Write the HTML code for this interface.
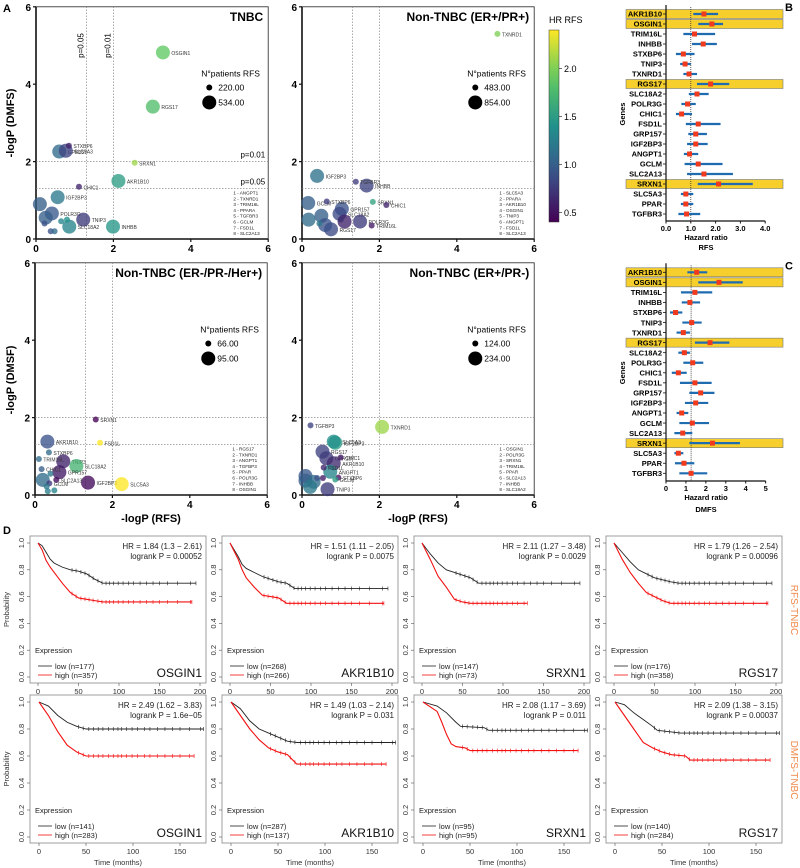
<!DOCTYPE html>
<html><head><meta charset="utf-8"><style>
body{margin:0;background:#fff}
svg{display:block;font-family:"Liberation Sans",sans-serif}
</style></head><body>
<svg id="fig" width="800" height="868" viewBox="0 0 800 868" xmlns="http://www.w3.org/2000/svg"></svg>
<script>
// ---------- DATA ----------
const scatterTitles=["TNBC","Non-TNBC (ER+/PR+)","Non-TNBC (ER-/PR-/Her+)","Non-TNBC (ER+/PR-)"];
const legendN=[[220,534],[483,854],[66,95],[124,234]];
// points: [rfs, dmfs, patients, hr, label]
const s1=[[3.28,4.82,534,1.9,"OSGIN1"],[3.02,3.42,534,1.8,"RGS17"],[0.85,2.41,220,0.6,"STXBP6"],[0.6,2.26,534,1.1,"GPR157"],[0.77,2.28,534,0.8,"SLC5A3"],[2.55,1.97,220,2.1,"SRXN1"],[2.13,1.5,534,1.5,"AKR1B10"],[1.11,1.35,220,0.6,"CHIC1"],[0.56,1.08,534,1.2,"IGF2BP3"],[0.1,0.9,534,1.0,""],[0.41,0.66,534,0.95,"POLR3G"],[0.25,0.55,534,1.0,""],[0.22,0.4,220,0.9,""],[1.22,0.5,534,0.75,"TNIP3"],[1.99,0.32,534,1.45,"INHBB"],[0.86,0.32,534,1.3,"SLC18A2"],[0.8,0.5,220,1.4,""],[0.65,0.46,220,1.3,""],[0.38,0.2,220,0.9,""],[0.48,0.2,220,1.1,""]];
const s2=[[5.05,5.3,483,2.0,"TXNRD1"],[0.39,1.63,854,1.15,"IGF2BP3"],[1.39,1.48,483,0.75,"TGFBR3"],[1.67,1.38,854,0.8,"INHBB"],[0.16,0.93,854,1.0,"GCLM"],[0.64,0.97,483,0.75,"STXBP6"],[1.83,0.96,483,1.55,"SRXN1"],[2.18,0.88,483,0.6,"CHIC1"],[1.03,0.78,854,0.9,"GPR157"],[0.97,0.65,854,0.85,"SLC18A2"],[1.5,0.45,854,0.75,"POLR3G"],[1.8,0.35,483,0.55,"TRIM16L"],[0.75,0.25,854,0.85,"RGS17"],[0.17,0.5,854,1.1,""],[0.5,0.6,854,1.0,""],[0.45,0.4,483,1.2,""],[0.6,0.36,854,0.9,""],[1.0,0.5,483,0.7,""],[1.1,0.45,854,0.6,""]];
const s3=[[1.57,1.95,66,0.4,"SRXN1"],[1.68,1.35,66,2.4,"FSD1L"],[0.32,1.38,95,0.9,"AKR1B10"],[0.36,1.1,66,1.1,"STXBP6"],[0.1,0.93,66,1.1,"TRIM16L"],[0.73,0.87,95,0.6,"TNIP3"],[1.07,0.75,95,1.7,"SLC18A2"],[0.17,0.67,66,1.0,"CHIC1"],[0.63,0.59,95,0.55,"GPR157"],[0.55,0.39,66,0.45,"SLC2A13"],[1.37,0.32,95,0.45,"IGF2BP3"],[2.24,0.28,95,2.4,"SLC5A3"],[0.37,0.3,66,0.75,"GCLM"],[0.2,0.39,95,1.1,""],[0.4,0.55,66,1.2,""],[0.3,0.22,66,1.2,""],[0.5,0.12,66,1.3,""],[0.33,0.1,66,1.25,""]];
const s4=[[2.07,1.76,234,2.1,"TXNRD1"],[0.22,1.8,124,0.8,"TGFBP3"],[0.86,1.35,234,1.5,"IGF2BP3"],[0.82,1.38,234,1.4,"SLC5A3"],[0.53,1.12,234,0.8,"RGS17"],[1.0,0.97,124,0.55,"CHIC1"],[0.63,0.95,234,0.75,"GPR157"],[0.82,0.82,234,0.65,"AKR1B10"],[0.56,0.71,124,0.6,"FSD1L"],[0.73,0.6,234,1.3,"ANGPT1"],[0.94,0.45,124,0.5,"STXBP6"],[0.86,0.4,124,1.5,"GCLM"],[0.66,0.15,234,0.75,"TNIP3"],[0.09,0.49,234,0.95,""],[0.09,0.37,234,1.0,""],[0.3,0.34,234,1.1,""],[0.21,0.21,234,1.2,""],[0.39,0.44,124,0.9,""],[0.54,0.44,124,0.55,""]];
const scatterSeries=[s1,s2,s3,s4];
const keyLists=[["1 - ANGPT1","2 - TXNRD1","3 - TRIM16L","4 - PPARA","5 - TGFBR3","6 - GCLM","7 - FSD1L","8 - SLC2A13"],["1 - SLC5A3","2 - PPARA","3 - AKR1B10","4 - OSGIN1","5 - TNIP3","6 - ANGPT1","7 - FSD1L","8 - SLC2A13"],["1 - RGS17","2 - TXNRD1","3 - ANGPT1","4 - TGFBP3","5 - PPAR","6 - POLR3G","7 - INHBB","8 - OSGIN1"],["1 - OSGIN1","2 - POLR3G","3 - SRXN1","4 - TRIM16L","5 - PPAR","6 - SLC2A13","7 - INHBB","8 - SLC18A2"]];
const axisTicks=[0,2,4,6];
const cbTicks=[0.5,1.0,1.5,2.0];

const genes=["AKR1B10","OSGIN1","TRIM16L","INHBB","STXBP6","TNIP3","TXNRD1","RGS17","SLC18A2","POLR3G","CHIC1","FSD1L","GRP157","IGF2BP3","ANGPT1","GCLM","SLC2A13","SRXN1","SLC5A3","PPAR","TGFBR3"];
const highlighted=["AKR1B10","OSGIN1","RGS17","SRXN1"];
const hrRFS=[1.53,1.85,1.15,1.5,0.7,0.77,0.93,1.8,1.25,0.87,0.63,1.3,1.2,1.2,0.95,1.3,1.53,2.12,0.8,0.8,0.83];
const loRFS=[1.1,1.3,0.7,1.05,0.4,0.57,0.7,1.25,0.92,0.62,0.4,0.8,0.9,0.85,0.72,0.75,0.85,1.28,0.6,0.6,0.5];
const hiRFS=[2.1,2.3,1.98,2.05,1.15,1.0,1.25,2.55,1.72,1.2,1.05,2.2,1.65,1.68,1.3,2.28,2.7,3.5,1.1,1.1,1.38];
const hrDMFS=[1.54,2.66,1.45,1.2,0.48,1.29,0.87,2.21,0.92,1.34,0.62,1.45,1.74,1.49,0.79,1.32,0.84,2.33,0.62,0.9,1.26];
const loDMFS=[1.07,1.62,0.75,0.79,0.2,0.82,0.53,1.45,0.62,0.87,0.29,0.7,1.17,0.95,0.53,0.67,0.42,1.17,0.42,0.45,0.67];
const hiDMFS=[2.07,3.85,2.32,1.71,0.82,1.79,1.2,3.18,1.2,1.87,1.04,2.29,2.43,2.12,1.12,2.16,1.32,3.71,0.87,1.42,2.07];
const ticksRFS=[0,1,2,3,4];
const ticksDMFS=[0,1,2,3,4,5];

const kmGenes=["OSGIN1","AKR1B10","SRXN1","RGS17"];
const kmHR=[["HR = 1.84 (1.3 − 2.61)","HR = 1.51 (1.11 − 2.05)","HR = 2.11 (1.27 − 3.48)","HR = 1.79 (1.26 − 2.54)"],["HR = 2.49 (1.62 − 3.83)","HR = 1.49 (1.03 − 2.14)","HR = 2.08 (1.17 − 3.69)","HR = 2.09 (1.38 − 3.15)"]];
const kmP=[["logrank P = 0.00052","logrank P = 0.0075","logrank P = 0.0029","logrank P = 0.00096"],["logrank P = 1.6e−05","logrank P = 0.031","logrank P = 0.011","logrank P = 0.00037"]];
const kmNlow=[[177,268,147,176],[141,287,95,140]];
const kmNhigh=[[357,266,73,358],[283,137,95,284]];
const kmLow=[
 [[[0,1],[5,.98],[10,.93],[15,.88],[20,.85],[30,.82],[40,.8],[50,.79],[60,.77],[70,.73],[80,.7],[195,.7]],
  [[0,1],[10,.9],[15,.84],[20,.81],[30,.78],[40,.75],[50,.73],[60,.71],[70,.7],[80,.66],[195,.66]],
  [[0,1],[10,.92],[20,.85],[30,.8],[40,.78],[60,.74],[70,.7],[195,.7]],
  [[0,1],[10,.93],[20,.86],[30,.8],[40,.77],[50,.74],[70,.71],[80,.7],[195,.7]]],
 [[[0,1],[10,.97],[20,.9],[30,.85],[40,.82],[50,.8],[175,.8]],
  [[0,1],[10,.95],[20,.86],[30,.8],[40,.77],[50,.74],[60,.71],[70,.7],[175,.7]],
  [[0,1],[15,.97],[25,.92],[35,.85],[40,.82],[65,.81],[70,.79],[175,.79]],
  [[0,1],[10,.98],[20,.92],[30,.87],[40,.82],[45,.79],[70,.77],[175,.77]]]];
const kmHigh=[
 [[[0,1],[5,.95],[10,.87],[15,.82],[20,.78],[30,.7],[40,.63],[50,.59],[60,.58],[70,.57],[80,.56],[190,.56]],
  [[0,1],[10,.88],[15,.8],[20,.74],[30,.67],[40,.61],[50,.6],[60,.59],[70,.55],[190,.55]],
  [[0,1],[10,.88],[20,.75],[30,.67],[40,.58],[50,.56],[60,.55],[130,.55]],
  [[0,1],[10,.88],[20,.78],[30,.7],[40,.63],[50,.6],[60,.57],[70,.55],[190,.55]]],
 [[[0,1],[10,.9],[20,.78],[30,.68],[40,.63],[50,.6],[165,.6]],
  [[0,1],[10,.9],[20,.8],[30,.72],[40,.66],[50,.63],[60,.61],[70,.54],[165,.54]],
  [[0,1],[15,.93],[20,.85],[25,.76],[30,.69],[35,.67],[45,.66],[50,.64],[165,.64]],
  [[0,1],[10,.9],[20,.8],[30,.7],[40,.66],[50,.63],[60,.61],[75,.6],[80,.57],[165,.57]]]];
const censorTimes=[42,47,53,58,63,68,74,79,84,88,93,99,105,112,118,126,134,142,150,160,172,188];
const kmXTicks=[[0,50,100,150,200],[0,50,100,150]];
const kmYTicks=[0,0.2,0.4,0.6,0.8,1.0];

// ---------- HELPERS ----------
const NS="http://www.w3.org/2000/svg";
const svg=document.getElementById('fig');
function mk(tag,attrs,parent,txt){const e=document.createElementNS(NS,tag);for(const k in attrs)e.setAttribute(k,attrs[k]);if(txt!==undefined)e.textContent=txt;(parent||svg).appendChild(e);return e;}
function viridis(t){const st=[[68,1,84],[59,82,139],[33,145,140],[94,201,98],[253,231,37]];t=Math.max(0,Math.min(1,t));const f=t*4,i=Math.min(3,Math.floor(f)),r=f-i;const c=st[i].map((v,k)=>Math.round(v+(st[i+1][k]-v)*r));return `rgb(${c})`;}
const HRMIN=0.4,HRMAX=2.4;

let e;
e=mk('text',{x:3,y:12,'font-size':11,'font-weight':'bold'},svg,'A');


// ---------- SCATTER PANELS ----------
const panels=[{x0:36,y0:239},{x0:302,y0:239},{x0:35,y0:495},{x0:302,y0:495}];
const U=38.7;
panels.forEach((p,pi)=>{
  const g=mk('g',{});
  
  
  const sx=v=>p.x0+v*U, sy=v=>p.y0-v*U;
  mk('rect',{x:sx(0),y:sy(6),width:6*U,height:6*U,fill:'none',stroke:'#222','stroke-width':0.8},g);
  mk('line',{x1:sx(0),y1:sy(0),x2:sx(0),y2:sy(6),stroke:'#111','stroke-width':1.6},g);
  mk('line',{x1:sx(0),y1:sy(0),x2:sx(6),y2:sy(0),stroke:'#111','stroke-width':1.6},g);
  axisTicks.forEach(t=>{
    mk('line',{x1:sx(0)-3,y1:sy(t),x2:sx(0),y2:sy(t),stroke:'#111','stroke-width':1.2},g);
    mk('line',{x1:sx(t),y1:sy(0),x2:sx(t),y2:sy(0)+3,stroke:'#111','stroke-width':1.2},g);
    mk('text',{x:sx(0)-5,y:sy(t)+4,'font-size':10,'font-weight':'bold','text-anchor':'end'},g,t);
    mk('text',{x:sx(t),y:sy(0)+13,'font-size':10,'font-weight':'bold','text-anchor':'middle'},g,t);
  });
  [1.3,2].forEach(v=>{
    mk('line',{x1:sx(v),y1:sy(0),x2:sx(v),y2:sy(6),stroke:'#777','stroke-width':0.6,'stroke-dasharray':'1.5,1.5'},g);
    mk('line',{x1:sx(0),y1:sy(v),x2:sx(6),y2:sy(v),stroke:'#777','stroke-width':0.6,'stroke-dasharray':'1.5,1.5'},g);
  });
  const t=mk('text',{x:sx(6)-5,y:sy(6)+14,'font-size':12,'font-weight':'bold','text-anchor':'end'},g,scatterTitles[pi]);
  
  if(pi===0){
    mk('text',{transform:`translate(${sx(1.3)-3},${sy(5)}) rotate(-90)`,'font-size':8,'text-anchor':'middle'},g,'p=0.05');
    mk('text',{transform:`translate(${sx(2)-3},${sy(5)}) rotate(-90)`,'font-size':8,'text-anchor':'middle'},g,'p=0.01');
    mk('text',{x:sx(6)-3,y:sy(2)-4,'font-size':8,'text-anchor':'end'},g,'p=0.01');
    mk('text',{x:sx(6)-3,y:sy(1.3)-4,'font-size':8,'text-anchor':'end'},g,'p=0.05');
  }
  const [nmin,nmax]=legendN[pi];
  const rad=n=>3+4*(n-nmin)/(nmax-nmin);
  const lx=sx(4.4), ly=sy(4.2);
  const lg=mk('g',{},g);
  mk('text',{x:lx-5,y:ly,'font-size':8.5},lg,'N°patients RFS');
  legendN[pi].forEach((n,k)=>{
    mk('circle',{cx:lx+3,cy:ly+11+k*15,r:rad(n),fill:'#000'},lg);
    mk('text',{x:lx+12,y:ly+14+k*15,'font-size':8.5},lg,n.toFixed(2));
  });
  keyLists[pi].forEach((s,k)=>{
    mk('text',{x:sx(5.1),y:sy(1.15)+k*5.8,'font-size':4.6,fill:'#222'},g,s);
  });
  scatterSeries[pi].slice().sort((a,b)=>b[2]-a[2]).forEach(d=>{
    const c=mk('circle',{cx:sx(d[0]),cy:sy(d[1]),r:rad(d[2]),fill:viridis((d[3]-HRMIN)/(HRMAX-HRMIN)),'fill-opacity':0.78},g);
    
    
    if(d[4])mk('text',{x:sx(d[0])+rad(d[2])+1.5,y:sy(d[1])+2.5,'font-size':5,fill:'#333'},g,d[4]);
  });
});
e=mk('text',{transform:'translate(14,123) rotate(-90)','font-size':11,'font-weight':'bold','text-anchor':'middle'},svg,'-logP (DMFS)');

e=mk('text',{transform:'translate(14,380) rotate(-90)','font-size':11,'font-weight':'bold','text-anchor':'middle'},svg,'-logP (DMSF)');

e=mk('text',{x:151,y:522,'font-size':11,'font-weight':'bold','text-anchor':'middle'},svg,'-logP (RFS)');

e=mk('text',{x:418,y:522,'font-size':11,'font-weight':'bold','text-anchor':'middle'},svg,'-logP (RFS)');


const cb=mk('g',{});
const cbTop=30,cbBot=222,cbY=v=>cbBot-(v-HRMIN)/(HRMAX-HRMIN)*(cbBot-cbTop);
const defs=mk('defs',{});const grad=mk('linearGradient',{id:'vg',x1:0,y1:1,x2:0,y2:0},defs);
for(let k=0;k<=10;k++)mk('stop',{offset:k/10,'stop-color':viridis(k/10)},grad);
mk('rect',{x:549,y:cbTop,width:10,height:cbBot-cbTop,fill:'url(#vg)',stroke:'#333','stroke-width':0.5},cb);
mk('text',{x:549,y:23,'font-size':9},cb,'HR RFS');
cbTicks.forEach(v=>{mk('line',{x1:559,y1:cbY(v),x2:562,y2:cbY(v),stroke:'#333','stroke-width':0.7},cb);mk('text',{x:564,y:cbY(v)+3.5,'font-size':9},cb,v.toFixed(1));});

// ---------- FOREST PLOTS ----------
function forest(cfg){
  const g=mk('g',{});
  const sx=v=>666+v*cfg.unit, ry=i=>cfg.y0+i*cfg.step;
  genes.forEach((gn,i)=>{
    if(highlighted.includes(gn)){const b=mk('rect',{x:626,y:ry(i)-4.5,width:157,height:9,fill:'#f6cf2c',stroke:'#777','stroke-width':0.6},g);}
  });
  mk('line',{x1:sx(cfg.ref),y1:ry(0)-7,x2:sx(cfg.ref),y2:cfg.axisY,stroke:'#333','stroke-width':0.8,'stroke-dasharray':'1,1'},g);
  genes.forEach((gn,i)=>{
    mk('text',{x:662,y:ry(i)+2.7,'font-size':7.5,'font-weight':'bold','text-anchor':'end'},g,gn);
    mk('line',{x1:663,y1:ry(i),x2:666,y2:ry(i),stroke:'#111','stroke-width':0.8},g);
    const l=mk('line',{x1:sx(cfg.lo[i]),y1:ry(i),x2:sx(cfg.hi[i]),y2:ry(i),stroke:'#1f6bb0','stroke-width':2.2},g);
    
    const m=mk('rect',{x:sx(cfg.hr[i])-2.5,y:ry(i)-2.5,width:5,height:5,fill:'#f03a1e'},g);
    
  });
  mk('line',{x1:666,y1:ry(0)-9,x2:666,y2:cfg.axisY,stroke:'#111','stroke-width':1.2},g);
  mk('line',{x1:666,y1:cfg.axisY,x2:sx(cfg.ticks[cfg.ticks.length-1]),y2:cfg.axisY,stroke:'#111','stroke-width':1.2},g);
  cfg.ticks.forEach(t=>{mk('line',{x1:sx(t),y1:cfg.axisY,x2:sx(t),y2:cfg.axisY+2.5,stroke:'#111','stroke-width':1},g);
    mk('text',{x:sx(t),y:cfg.axisY+10,'font-size':7.5,'font-weight':'bold','text-anchor':'middle'},g,cfg.fmt(t));});
  mk('text',{x:706,y:cfg.axisY+19,'font-size':7.5,'font-weight':'bold','text-anchor':'middle'},g,'Hazard ratio');
  mk('text',{x:706,y:cfg.axisY+cfg.subDy,'font-size':7.5,'font-weight':'bold','text-anchor':'middle'},g,cfg.sub);
  mk('text',{transform:`translate(625,${(ry(0)+ry(20))/2}) rotate(-90)`,'font-size':7.5,'font-weight':'bold','text-anchor':'middle'},g,'Genes');
  mk('text',{x:785,y:cfg.y0-3,'font-size':11,'font-weight':'bold'},g,cfg.letter);
}
forest({name:'forest-rfs',y0:14,step:10,unit:24.8,ref:1,axisY:221,hr:hrRFS,lo:loRFS,hi:hiRFS,ticks:ticksRFS,fmt:t=>t.toFixed(1),sub:'RFS',subDy:29,letter:'B'});
forest({name:'forest-dmfs',y0:272.3,step:10.05,unit:19.93,ref:1.26,axisY:481,hr:hrDMFS,lo:loDMFS,hi:hiDMFS,ticks:ticksDMFS,fmt:t=>t,sub:'DMFS',subDy:31,letter:'C'});

// ---------- KM PLOTS ----------
e=mk('text',{x:3,y:534,'font-size':11,'font-weight':'bold'},svg,'D');

const colX=[30,222,414,606];
const rows=[{top:536,bot:683,y1:543,y0:677,t0:8,pxm:0.81},{top:695,bot:843,y1:702,y0:837,t0:9,pxm:0.94}];
rows.forEach((r,ri)=>{
  colX.forEach((bx,ci)=>{
    const g=mk('g',{});
    const sx=t=>bx+r.t0+t*r.pxm, sy=v=>r.y0-v*(r.y0-r.y1);
    mk('rect',{x:bx,y:r.top,width:176,height:r.bot-r.top,fill:'none',stroke:'#888','stroke-width':0.8},g);
    kmYTicks.forEach(v=>{mk('line',{x1:bx-3,y1:sy(v),x2:bx,y2:sy(v),stroke:'#555','stroke-width':0.6},g);
      mk('text',{transform:`translate(${bx-6},${sy(v)}) rotate(-90)`,'font-size':7.5,'text-anchor':'middle',fill:'#333'},g,v.toFixed(1));});
    kmXTicks[ri].forEach(t=>{mk('line',{x1:sx(t),y1:r.bot,x2:sx(t),y2:r.bot+3,stroke:'#555','stroke-width':0.6},g);
      mk('text',{x:sx(t),y:r.bot+11,'font-size':7.5,'text-anchor':'middle',fill:'#333'},g,t);});
    if(ri===1)mk('text',{x:bx+88,y:r.bot+22,'font-size':7.5,'text-anchor':'middle',fill:'#333'},g,'Time (months)');
    [[kmLow[ri][ci],'#222'],[kmHigh[ri][ci],'#f21010']].forEach(([pts,col],k)=>{
      let d=`M${sx(pts[0][0])},${sy(pts[0][1])}`;
      for(let i=1;i<pts.length;i++)d+=`L${sx(pts[i][0])},${sy(pts[i][1])}`;
      const pth=mk('path',{d,fill:'none',stroke:col,'stroke-width':k?1.1:0.9},g);
      
      const tmax=pts[pts.length-1][0];
      const yAt=t=>{for(let i=1;i<pts.length;i++){if(t<=pts[i][0]){const a=pts[i-1],b=pts[i];return a[1]+(b[1]-a[1])*(t-a[0])/(b[0]-a[0]);}}return pts[pts.length-1][1];};
      censorTimes.filter(t=>t<tmax).concat([tmax]).forEach(t=>mk('line',{x1:sx(t),y1:sy(yAt(t))-2,x2:sx(t),y2:sy(yAt(t))+2,stroke:col,'stroke-width':0.6},g));
    });
    mk('text',{x:bx+172,y:r.top+13,'font-size':8,'text-anchor':'end',fill:'#222'},g,kmHR[ri][ci]);
    mk('text',{x:bx+172,y:r.top+23,'font-size':8,'text-anchor':'end',fill:'#222'},g,kmP[ri][ci]);
    mk('text',{x:bx+5,y:r.bot-30,'font-size':7.5,fill:'#222'},g,'Expression');
    mk('line',{x1:bx+8,y1:r.bot-17,x2:bx+22,y2:r.bot-17,stroke:'#222','stroke-width':0.8},g);
    mk('line',{x1:bx+8,y1:r.bot-8,x2:bx+22,y2:r.bot-8,stroke:'#f21010','stroke-width':0.8},g);
    mk('text',{x:bx+25,y:r.bot-14,'font-size':7.5,fill:'#222'},g,`low  (n=${kmNlow[ri][ci]})`);
    mk('text',{x:bx+25,y:r.bot-5,'font-size':7.5,fill:'#222'},g,`high (n=${kmNhigh[ri][ci]})`);
    mk('text',{x:bx+172,y:r.bot-6,'font-size':12,'text-anchor':'end',fill:'#111'},g,kmGenes[ci]);
  });
  mk('text',{transform:`translate(9,${(r.top+r.bot)/2}) rotate(-90)`,'font-size':7.5,'text-anchor':'middle',fill:'#333'},svg,'Probability');
});
e=mk('text',{transform:'translate(791,610) rotate(90)','font-size':10,'text-anchor':'middle',fill:'#f08a4b'},svg,'RFS-TNBC');

e=mk('text',{transform:'translate(791,770) rotate(90)','font-size':10,'text-anchor':'middle',fill:'#f08a4b'},svg,'DMFS-TNBC');

</script>
</body></html>
